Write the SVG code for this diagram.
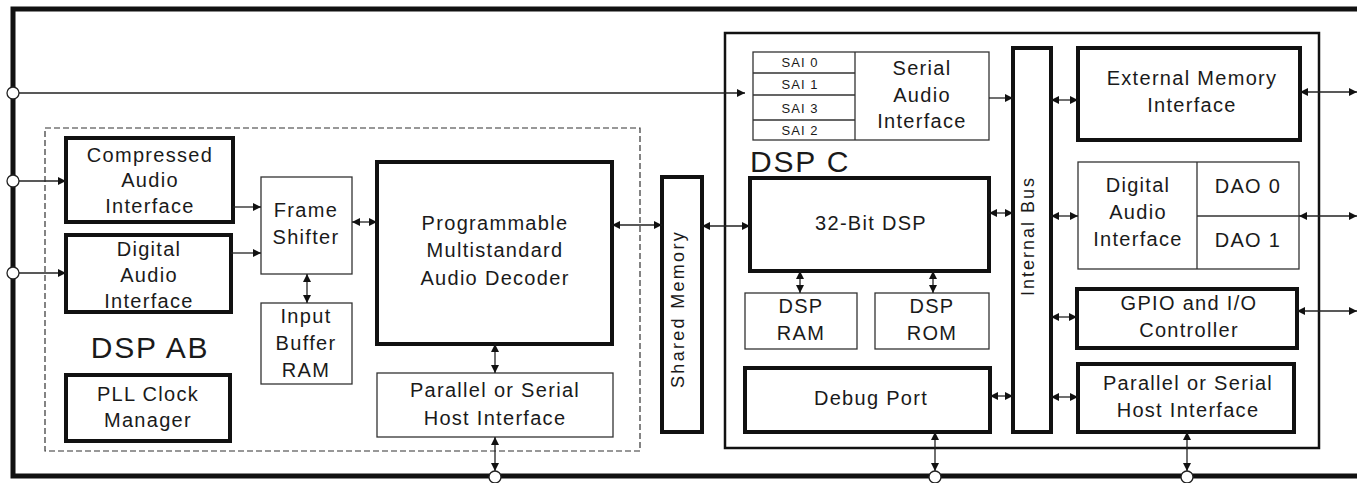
<svg xmlns="http://www.w3.org/2000/svg" width="1357" height="483" viewBox="0 0 1357 483">
<style>
text{font-family:"Liberation Sans",Arial,sans-serif;font-size:20px;fill:#1a1a1a;text-anchor:middle;letter-spacing:1.3px}
.thick{fill:#fff;stroke:#111;stroke-width:4}
.thin{fill:#fff;stroke:#333;stroke-width:1.3}
.big{font-size:30px;letter-spacing:1.8px}
.sm{font-size:13px;letter-spacing:1px}
.cn{fill:none;stroke:#222;stroke-width:1.3}
.port{fill:#fff;stroke:#222;stroke-width:1.3}
</style>
<defs>
<marker id="ah" viewBox="0 0 10 10" refX="10" refY="5" markerWidth="8" markerHeight="8" markerUnits="userSpaceOnUse" orient="auto-start-reverse"><path d="M0,0 L10,5 L0,10 z" fill="#111"/></marker>
</defs>
<rect width="1357" height="483" fill="#fff"/>
<g id="frame">
<path d="M1362,9 H13 V476 H1362" fill="none" stroke="#111" stroke-width="5"/>
</g>
<g id="dsp-ab">
<rect x="45" y="128" width="595" height="323" fill="none" stroke="#333" stroke-width="1.2" stroke-dasharray="6 3"/>
<text class="big" x="150" y="358" text-anchor="middle">DSP AB</text>
</g>
<g id="dsp-c">
<rect x="725" y="33" width="594" height="415" fill="none" stroke="#111" stroke-width="2.5"/>
<text class="big" x="750" y="172" style="text-anchor:start">DSP C</text>
</g>
<g id="compressed-audio">
<rect class="thick" x="66" y="138" width="167" height="84"/>
<text x="150" y="162">Compressed</text><text x="150" y="187">Audio</text><text x="150" y="213">Interface</text>
</g>
<g id="digital-audio-ab">
<rect class="thick" x="66" y="235" width="165" height="77"/>
<text x="149" y="256">Digital</text><text x="149" y="282">Audio</text><text x="149" y="308">Interface</text>
</g>
<g id="frame-shifter">
<rect class="thin" x="261" y="177" width="91" height="97"/>
<text x="306" y="217">Frame</text><text x="306" y="244">Shifter</text>
</g>
<g id="input-buffer">
<rect class="thin" x="261" y="303" width="91" height="81"/>
<text x="306" y="323">Input</text><text x="306" y="350">Buffer</text><text x="306" y="377">RAM</text>
</g>
<g id="pll">
<rect class="thick" x="66" y="375" width="164" height="66"/>
<text x="148" y="401">PLL Clock</text><text x="148" y="427">Manager</text>
</g>
<g id="decoder">
<rect class="thick" x="377" y="162" width="235" height="182"/>
<text x="495" y="230">Programmable</text><text x="495" y="257">Multistandard</text><text x="495" y="285">Audio Decoder</text>
</g>
<g id="host-ab">
<rect class="thin" x="377" y="373" width="236" height="64"/>
<text x="495" y="397">Parallel or Serial</text><text x="495" y="425">Host Interface</text>
</g>
<g id="shared-memory">
<rect class="thick" x="662" y="177" width="40" height="255"/>
<text transform="translate(684,309) rotate(-90)" style="font-size:18px;letter-spacing:2.3px">Shared Memory</text>
</g>
<g id="sai">
<rect class="thin" x="753" y="52" width="236" height="88"/>
<path d="M855,52 V140 M753,73 H855 M753,95 H855 M753,120 H855" stroke="#333" stroke-width="1.3" fill="none"/>
<text class="sm" x="800" y="67">SAI 0</text><text class="sm" x="800" y="89">SAI 1</text><text class="sm" x="800" y="113">SAI 3</text><text class="sm" x="800" y="135">SAI 2</text>
<text x="922" y="75">Serial</text><text x="922" y="102">Audio</text><text x="922" y="128">Interface</text>
</g>
<g id="dsp32">
<rect class="thick" x="750" y="178" width="239" height="93"/>
<text x="871" y="230">32-Bit DSP</text>
</g>
<g id="dsp-ram">
<rect class="thin" x="745" y="293" width="112" height="56"/>
<text x="801" y="313">DSP</text><text x="801" y="340">RAM</text>
</g>
<g id="dsp-rom">
<rect class="thin" x="875" y="293" width="114" height="56"/>
<text x="932" y="313">DSP</text><text x="932" y="340">ROM</text>
</g>
<g id="debug">
<rect class="thick" x="745" y="368" width="245" height="64"/>
<text x="871" y="405">Debug Port</text>
</g>
<g id="internal-bus">
<rect class="thick" x="1013" y="48" width="38" height="384"/>
<text transform="translate(1034,236) rotate(-90)" style="font-size:18px;letter-spacing:2px">Internal Bus</text>
</g>
<g id="emi">
<rect class="thick" x="1078" y="48" width="222" height="92"/>
<text x="1192" y="85">External Memory</text><text x="1192" y="112">Interface</text>
</g>
<g id="dai-c">
<rect class="thin" x="1078" y="162" width="221" height="107"/>
<path d="M1197,162 V269 M1197,216 H1299" stroke="#333" stroke-width="1.3" fill="none"/>
<text x="1138" y="192">Digital</text><text x="1138" y="219">Audio</text><text x="1138" y="246">Interface</text>
<text x="1248" y="193">DAO 0</text><text x="1248" y="247">DAO 1</text>
</g>
<g id="gpio">
<rect class="thick" x="1077" y="289" width="220" height="59"/>
<text x="1189" y="310">GPIO and I/O</text><text x="1189" y="337">Controller</text>
</g>
<g id="host-c">
<rect class="thick" x="1078" y="364" width="216" height="68"/>
<text x="1188" y="390">Parallel or Serial</text><text x="1188" y="417">Host Interface</text>
</g>
<g id="connectors" class="cn">
<path class="cn" d="M19,93 H745" marker-end="url(#ah)"/>
<path class="cn" d="M19,181 H66" marker-end="url(#ah)"/>
<path class="cn" d="M19,273 H66" marker-end="url(#ah)"/>
<path class="cn" d="M233,207 H261" marker-end="url(#ah)"/>
<path class="cn" d="M231,253 H261" marker-end="url(#ah)"/>
<path class="cn" d="M352,222 H377" marker-start="url(#ah)" marker-end="url(#ah)"/>
<path class="cn" d="M307,274 V303" marker-start="url(#ah)" marker-end="url(#ah)"/>
<path class="cn" d="M495,344 V373" marker-start="url(#ah)" marker-end="url(#ah)"/>
<path class="cn" d="M495,437 V471" marker-start="url(#ah)" marker-end="url(#ah)"/>
<path class="cn" d="M612,225 H662" marker-start="url(#ah)" marker-end="url(#ah)"/>
<path class="cn" d="M702,226 H750" marker-start="url(#ah)" marker-end="url(#ah)"/>
<path class="cn" d="M989,98 H1013" marker-end="url(#ah)"/>
<path class="cn" d="M989,213 H1013" marker-start="url(#ah)" marker-end="url(#ah)"/>
<path class="cn" d="M800,271 V293" marker-start="url(#ah)" marker-end="url(#ah)"/>
<path class="cn" d="M933,271 V293" marker-start="url(#ah)" marker-end="url(#ah)"/>
<path class="cn" d="M990,396 H1013" marker-start="url(#ah)" marker-end="url(#ah)"/>
<path class="cn" d="M935,432 V471" marker-start="url(#ah)" marker-end="url(#ah)"/>
<path class="cn" d="M1051,100 H1078" marker-start="url(#ah)" marker-end="url(#ah)"/>
<path class="cn" d="M1051,216 H1078" marker-start="url(#ah)" marker-end="url(#ah)"/>
<path class="cn" d="M1051,317 H1077" marker-start="url(#ah)" marker-end="url(#ah)"/>
<path class="cn" d="M1051,397 H1078" marker-start="url(#ah)" marker-end="url(#ah)"/>
<path class="cn" d="M1300,92 H1357" marker-start="url(#ah)" marker-end="url(#ah)"/>
<path class="cn" d="M1299,216 H1357" marker-start="url(#ah)" marker-end="url(#ah)"/>
<path class="cn" d="M1297,311 H1357" marker-start="url(#ah)" marker-end="url(#ah)"/>
<path class="cn" d="M1187,432 V471" marker-start="url(#ah)" marker-end="url(#ah)"/>
</g>
<g id="ports">
<circle class="port" cx="13" cy="93" r="6"/>
<circle class="port" cx="13" cy="181" r="6"/>
<circle class="port" cx="13" cy="273" r="6"/>
<circle class="port" cx="495" cy="477" r="6"/>
<circle class="port" cx="935" cy="477" r="6"/>
<circle class="port" cx="1187" cy="477" r="6"/>
</g>
</svg>
